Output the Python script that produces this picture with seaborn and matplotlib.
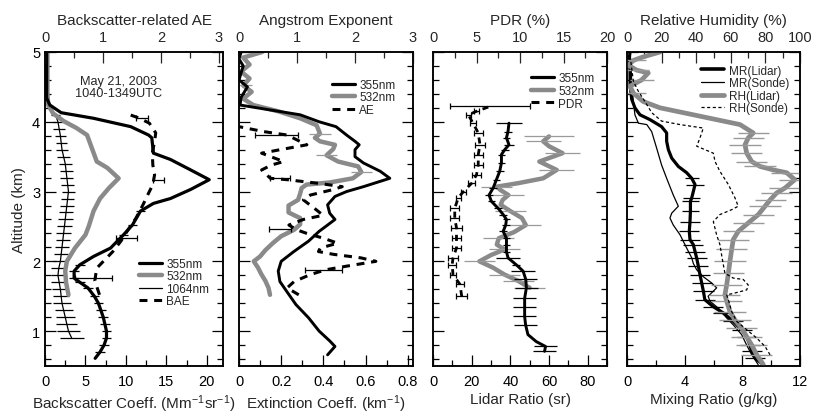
import numpy as np
import matplotlib
matplotlib.use("Agg")
import matplotlib.pyplot as plt
import seaborn as sns
from matplotlib.lines import Line2D
from matplotlib.ticker import MultipleLocator, FuncFormatter

# ---------------- panel 1: backscatter coeff (Mm-1 sr-1) + backscatter AE
bsc355_alt = [0.61, 0.70, 0.80, 0.90, 1.00, 1.10, 1.20, 1.30, 1.40, 1.50, 1.62, 1.70,
              1.76, 1.86, 1.95, 2.07, 2.19, 2.38, 2.52, 2.72, 2.83, 2.90, 3.03, 3.17,
              3.31, 3.46, 3.55, 3.77, 3.81, 3.93, 4.05, 4.13, 4.24, 4.34, 4.60, 5.00]
bsc355 = [6.2, 6.8, 7.3, 7.6, 7.6, 7.4, 7.2, 6.9, 6.6, 6.1, 5.3, 4.3,
          3.6, 3.6, 4.3, 6.0, 8.1, 9.7, 10.8, 11.8, 13.4, 15.5, 18.0, 20.3,
          18.0, 15.5, 13.4, 13.2, 12.8, 10.6, 6.0, 2.0, 0.6, 0.2, 0.2, 0.2]
bsc355_err = [0, 0.6, 0.6, 0.6, 0.6, 0.6, 0.6, 0.6, 0.6, 0.6, 0.6, 0.6,
              0.6, 0.6, 0.6, 0, 0, 0.6, 0.6, 0.6, 0, 0, 0, 0,
              0, 0, 0, 0, 0, 0, 0, 0, 0, 0, 0, 0]

bsc532_alt = [1.52, 1.70, 1.86, 2.00, 2.19, 2.38, 2.50, 2.72, 2.90, 3.05, 3.19, 3.34,
              3.43, 3.62, 3.81, 3.91, 4.01, 4.12, 4.24, 4.40, 5.00]
bsc532 = [2.9, 2.6, 2.5, 2.7, 3.7, 5.0, 5.4, 6.0, 6.8, 7.9, 9.1, 7.7,
          6.4, 5.8, 5.2, 3.9, 2.3, 1.0, 0.4, 0.3, 0.3]

bsc1064_alt = [0.9, 1.0, 1.1, 1.2, 1.3, 1.4, 1.5, 1.6, 1.7, 1.8,
               1.9, 2.0, 2.1, 2.2, 2.3, 2.4, 2.5, 2.6, 2.7, 2.8,
               2.9, 3.0, 3.1, 3.2, 3.3, 3.4, 3.5, 3.6, 3.7, 3.8,
               3.9, 4.0, 4.1, 4.2, 4.3, 4.6, 5.0]
bsc1064 = [3.3, 2.9, 2.7, 2.5, 2.3, 2.1, 2.0, 1.9, 1.75, 1.6,
           1.7, 1.9, 2.0, 2.1, 2.2, 2.3, 2.4, 2.5, 2.6, 2.7,
           2.8, 2.9, 2.8, 2.7, 2.6, 2.5, 2.3, 2.1, 2.0, 1.9,
           1.75, 1.6, 1.3, 0.6, 0.3, 0.2, 0.2]
bsc1064_err = [1.5, 1.4, 1.3, 1.2, 1.1, 1.1, 1.0, 1.0, 1.0, 0.9,
               0.9, 0.9, 0.9, 0.9, 0.9, 0.9, 0.9, 0.9, 0.9, 0.9,
               0.8, 0.8, 0.8, 0.8, 0.8, 0.8, 0.8, 0.7, 0.7, 0.7,
               0.7, 0.6, 0.5, 0, 0, 0, 0]

bae_alt = [1.52, 1.72, 1.90, 2.02, 2.14, 2.29, 2.45, 2.62, 2.81, 2.95, 3.10, 3.24,
           3.38, 3.55, 3.72, 3.84, 3.98, 4.05, 4.13]
bae = [0.94, 0.86, 0.89, 1.03, 1.17, 1.31, 1.43, 1.57, 1.69, 1.77, 1.86, 1.89,
       1.86, 1.85, 1.89, 1.91, 1.80, 1.63, 1.37]
bae_bar_alt = [1.76, 2.33, 3.17, 4.05]
bae_bar_mid = [0.83, 1.41, 1.96, 1.67]
bae_bar_half = [0.32, 0.18, 0.10, 0.10]

# ---------------- panel 2: extinction coeff (km-1) + Angstrom exponent
ext355_alt = [0.66, 0.78, 0.86, 1.00, 1.19, 1.38, 1.57, 1.71, 1.86, 2.00, 2.14, 2.29,
              2.43, 2.52, 2.60, 2.69, 2.81, 2.93, 3.00, 3.07, 3.19, 3.29, 3.41, 3.50,
              3.60, 3.67, 3.72, 3.81, 3.93, 4.00, 4.10, 4.17, 4.24, 4.35, 4.45, 4.50,
              4.60, 4.70, 4.80, 4.90, 5.00]
ext355 = [0.42, 0.455, 0.43, 0.38, 0.33, 0.27, 0.226, 0.194, 0.186, 0.20, 0.26, 0.33,
          0.38, 0.42, 0.455, 0.43, 0.42, 0.455, 0.51, 0.59, 0.715, 0.67, 0.59, 0.55,
          0.55, 0.57, 0.55, 0.51, 0.46, 0.38, 0.29, 0.147, 0.005, 0.01, 0.03, 0.04,
          0.0, 0.01, 0.02, 0.0, 0.01]

ext532_alt = [1.52, 1.62, 1.72, 1.82, 1.91, 2.00, 2.07, 2.16, 2.26, 2.36,
              2.45, 2.53, 2.62, 2.70, 2.80, 2.88, 2.97, 3.05, 3.10, 3.13,
              3.19, 3.28, 3.36, 3.43, 3.52, 3.61, 3.67, 3.72, 3.77, 3.83,
              3.95, 4.05, 4.15, 4.24, 4.33, 4.43, 4.52, 4.62, 4.72, 4.82,
              4.92, 5.00]
ext532 = [0.147, 0.14, 0.125, 0.105, 0.09, 0.07, 0.10, 0.125, 0.16, 0.20,
          0.26, 0.29, 0.29, 0.235, 0.235, 0.28, 0.29, 0.297, 0.32, 0.43,
          0.54, 0.58, 0.565, 0.47, 0.415, 0.447, 0.455, 0.384, 0.36, 0.384,
          0.368, 0.29, 0.186, 0.068, 0.02, 0.06, 0.02, 0.05, 0.01, 0.05,
          0.02, 0.11]
ext532_err = [0, 0, 0, 0, 0, 0, 0, 0, 0, 0,
              0, 0, 0, 0, 0, 0, 0, 0, 0, 0,
              0, 0.05, 0, 0, 0.05, 0, 0, 0, 0, 0.05,
              0, 0, 0, 0, 0, 0, 0.04, 0, 0, 0,
              0, 0]

ae_alt = [1.52, 1.62, 1.71, 1.81, 1.88, 1.93, 2.00, 2.05, 2.10, 2.14, 2.19, 2.26,
          2.33, 2.40, 2.45, 2.52, 2.60, 2.66, 2.76, 2.88, 2.95, 3.02, 3.07, 3.12,
          3.17, 3.19, 3.31, 3.38, 3.43, 3.55, 3.60, 3.67, 3.81, 3.86, 3.93]
ae = [1.03, 0.83, 0.95, 1.23, 1.50, 1.85, 2.36, 2.10, 1.63, 1.37, 1.40, 1.70,
      1.46, 1.17, 1.00, 0.86, 1.11, 1.45, 1.30, 1.11, 1.23, 1.58, 1.78, 1.35,
      0.83, 0.54, 0.39, 0.56, 0.77, 0.39, 0.71, 1.17, 0.83, 0.42, 0.0]
ae_bar_alt = [1.87, 2.47, 3.19, 3.81]
ae_bar_mid = [1.46, 0.70, 0.71, 0.65]
ae_bar_half = [0.32, 0.19, 0.17, 0.37]

# ---------------- panel 3: lidar ratio (sr) + particle depolarization ratio
lr355_alt = [0.71, 0.78, 0.85, 0.95, 1.09, 1.21, 1.35, 1.47, 1.62, 1.74, 1.86,
             1.95, 2.05, 2.14, 2.24, 2.33, 2.43, 2.52, 2.60, 2.67, 2.76, 2.86,
             2.95, 3.05, 3.17, 3.29, 3.41, 3.53, 3.60, 3.67, 3.77, 3.86, 3.98]
lr355 = [57.7, 58.2, 53.4, 49.1, 47.9, 47.4, 47.4, 47.4, 48.3, 48.0, 46.6,
         43.1, 38.8, 38.0, 38.0, 38.0, 36.3, 37.6, 38.0, 36.3, 33.7, 30.2,
         29.0, 31.1, 32.8, 34.5, 35.4, 35.4, 37.1, 39.3, 38.0, 38.8, 39.3]
lr355_err = [6, 6, 0, 0, 6, 6, 6, 6, 6, 6, 6,
             2, 6, 2, 2, 2, 2, 2, 2, 2, 2, 2,
             2, 2, 2, 2, 2, 2, 2, 2.5, 2, 2, 6.5]

lr532_alt = [1.62, 1.72, 1.81, 1.91, 2.00, 2.09, 2.17, 2.24, 2.33, 2.42,
             2.52, 2.62, 2.72, 2.81, 2.88, 2.95, 3.02, 3.07, 3.12, 3.19,
             3.31, 3.43, 3.55, 3.65, 3.72, 3.79]
lr532 = [50, 44, 37, 31, 24, 30, 37, 33, 34, 42,
         48, 46, 40, 35, 36, 39, 35, 33, 44, 57,
         64, 55, 67, 60, 57, 60]
lr532_err = [8, 8, 8, 0, 8, 0, 8, 0, 8, 0,
             8, 0, 8, 0, 0, 8, 0, 8, 0, 0,
             9, 0, 9, 0, 9, 13]

pdr_alt = [1.50, 1.67, 1.81, 1.95, 2.05, 2.19, 2.33, 2.48, 2.62, 2.76, 2.91,
           3.00, 3.12, 3.24, 3.38, 3.53, 3.67, 3.84, 3.98, 4.10, 4.15, 4.22]
pdr = [3.3, 3.1, 2.3, 2.2, 2.3, 2.7, 2.7, 2.7, 2.5, 2.5, 2.9,
       3.5, 4.45, 5.0, 5.2, 5.2, 5.4, 5.2, 4.6, 4.06, 5.0, 6.55]
pdr_err = [0.6, 0.5, 0.3, 0.5, 0.6, 0.5, 0.5, 0.6, 0.5, 0.5, 0.3,
           0.3, 0.4, 0.5, 0.5, 0.5, 0.6, 0.5, 0.3, 0.3, 0.3, 4.6]

# ---------------- panel 4: mixing ratio (g/kg) + relative humidity (%)
mrl_alt = [0.52, 0.61, 0.71, 0.80, 0.92, 1.02, 1.14, 1.26, 1.35, 1.45,
           1.57, 1.69, 1.81, 1.93, 2.05, 2.14, 2.24, 2.31, 2.43, 2.57,
           2.72, 2.86, 2.91, 3.10, 3.19, 3.27, 3.36, 3.48, 3.60, 3.72,
           3.84, 3.93, 4.03, 4.10, 4.20, 4.32, 4.53, 4.72, 4.91, 5.00]
mrl = [9.45, 8.9, 8.65, 8.53, 8.3, 7.95, 7.37, 6.68, 5.98, 5.4,
       5.3, 5.18, 5.06, 4.95, 4.83, 4.72, 4.6, 4.37, 4.32, 4.37,
       4.4, 4.4, 4.49, 4.72, 4.49, 4.14, 3.56, 3.1, 2.87, 2.75,
       2.75, 2.4, 1.6, 0.9, 0.55, 0.33, 0.21, 0.21, 0.16, 0.21]
mrl_err = [0, 0.7, 0.7, 0.7, 0.7, 0.7, 0.7, 0.7, 0.7, 0.7,
           0.7, 0.7, 0.7, 0.7, 0.7, 0.7, 0.7, 0.7, 0.7, 0.7,
           0.6, 0.6, 0.6, 0.6, 0.5, 0, 0, 0, 0, 0,
           0, 0, 0, 0, 0, 0, 0, 0, 0, 0]

mrs_alt = [0.52, 0.66, 0.80, 0.95, 1.09, 1.19, 1.33, 1.43, 1.50, 1.62,
           1.69, 1.78, 1.88, 1.97, 2.05, 2.19, 2.38, 2.52, 2.62, 2.69,
           2.79, 2.95, 3.19, 3.38, 3.62, 3.86, 3.96, 3.98, 4.10, 4.29,
           4.53, 4.82, 5.00]
mrs = [9.1, 8.65, 8.3, 7.95, 7.37, 6.91, 6.33, 5.75, 5.63, 6.22,
       5.87, 5.29, 4.83, 4.6, 4.49, 4.14, 3.68, 3.21, 2.98, 3.1,
       3.56, 3.21, 2.75, 2.4, 2.06, 1.71, 1.37, 0.79, 0.55, 0.44,
       0.33, 0.28, 0.21]

rhl_alt = [0.52, 0.66, 0.80, 0.92, 1.04, 1.16, 1.28, 1.43, 1.52, 1.66,
           1.83, 2.00, 2.17, 2.31, 2.43, 2.55, 2.67, 2.79, 2.88, 2.98,
           3.05, 3.17, 3.27, 3.31, 3.36, 3.43, 3.55, 3.67, 3.77, 3.84,
           3.96, 4.05, 4.13, 4.20, 4.29, 4.41, 4.51, 4.60, 4.70, 4.74,
           4.81, 4.88, 4.93, 5.00]
rhl = [78.8, 75, 72.1, 69.2, 66.3, 62.4, 59.5, 57.6, 56.6, 57.6,
       58.6, 59.5, 60.5, 61.4, 64.3, 70.1, 75.9, 79.8, 82.7, 86.5,
       91.3, 97, 92.3, 84.6, 76.9, 72.1, 69.2, 68.2, 70.1, 73,
       65.3, 48, 32.6, 19.1, 9.4, 3.7, 1.7, 8.5, 12.3, 5.6,
       0.8, 3.7, 9.4, 19.1]
rhl_err = [0, 9, 9, 9, 9, 9, 9, 9, 9, 9,
           9, 9, 9, 9, 9, 9, 9, 9, 9, 9,
           9, 9, 9, 0, 9, 9, 9, 9, 9, 9,
           0, 0, 0, 0, 0, 7, 0, 7, 0, 7,
           0, 7, 0, 0]

rhs_alt = [0.66, 0.78, 0.90, 1.02, 1.14, 1.28, 1.45, 1.52, 1.54, 1.59,
           1.66, 1.74, 1.76, 1.83, 1.95, 2.09, 2.24, 2.38, 2.57, 2.67,
           2.74, 2.79, 2.91, 3.10, 3.29, 3.43, 3.55, 3.65, 3.77, 3.91,
           3.96, 4.01, 4.13, 4.29, 4.44, 4.58, 4.77, 4.96]
rhs = [82.7, 79.8, 75, 69.2, 63.4, 60.5, 58.6, 57.6, 61.4, 69.2,
       70.1, 67.2, 61.4, 56.6, 55.7, 54.7, 53.7, 51.8, 49.9, 53.7,
       60.5, 64.3, 62.4, 58.6, 53.7, 50.9, 49.9, 40.3, 42.2, 44.1,
       30.6, 20.0, 14.3, 10.4, 6.5, 3.7, 2.7, 1.7]

GRAY = "#8a8a8a"
GRAY_ERR = "#9a9a9a"

sns.set_style("ticks")
plt.rcParams["font.family"] = ["Liberation Sans", "DejaVu Sans"]
plt.rcParams["mathtext.fontset"] = "custom"
plt.rcParams["mathtext.rm"] = "Liberation Sans"
plt.rcParams["mathtext.it"] = "Liberation Sans:italic"
plt.rcParams["axes.linewidth"] = 1.1
plt.rcParams["axes.unicode_minus"] = True

LABEL_FS = 11


def line(ax, x, y, color="k", lw=2.2, ls="-", **kw):
    sns.lineplot(x=x, y=y, ax=ax, orient="y", sort=False, estimator=None,
                 errorbar=None, color=color, linewidth=lw, linestyle=ls,
                 legend=False, **kw)


def bars(ax, x, y, err, color="k", lw=0.9, cap=0):
    x = np.asarray(x, float)
    y = np.asarray(y, float)
    err = np.asarray(err, float)
    keep = err > 0
    ax.errorbar(x[keep], y[keep], xerr=err[keep], fmt="none", ecolor=color,
                elinewidth=lw, capsize=cap, capthick=lw)


fmt = FuncFormatter(lambda v, _: f"{v:g}")


def setup(ax, top, xlim, xmaj, xmin, tlim, tmaj, tmin, show_y=False):
    ax.set_ylim(0.5, 5.0)
    ax.yaxis.set_major_locator(MultipleLocator(1))
    ax.yaxis.set_minor_locator(MultipleLocator(0.2))
    ax.set_xlim(*xlim)
    ax.xaxis.set_major_locator(MultipleLocator(xmaj))
    ax.xaxis.set_minor_locator(MultipleLocator(xmin))
    ax.xaxis.set_major_formatter(fmt)
    ax.tick_params(axis="both", which="both", direction="in", width=0.9,
                   left=True, right=True, bottom=True, top=False,
                   labelsize=10.5, colors="k")
    ax.tick_params(which="major", length=8)
    ax.tick_params(which="minor", length=4.5)
    ax.tick_params(axis="x", pad=6)
    if not show_y:
        ax.tick_params(axis="y", labelleft=False)
    top.set_xlim(*tlim)
    top.xaxis.set_major_locator(MultipleLocator(tmaj))
    top.xaxis.set_minor_locator(MultipleLocator(tmin))
    top.xaxis.set_major_formatter(fmt)
    top.tick_params(axis="x", which="both", direction="in", width=0.9,
                    top=True, bottom=False, labelsize=10.5, pad=6)
    top.tick_params(which="major", length=8)
    top.tick_params(which="minor", length=4.5)
    for sp in list(ax.spines.values()) + list(top.spines.values()):
        sp.set_linewidth(1.1)
        sp.set_color("k")


def add_legend(ax, handles, x, y):
    ax.legend(handles=handles, loc="upper left", bbox_to_anchor=(x, y),
              frameon=False, fontsize=8.5, handlelength=1.9,
              handletextpad=0.4, labelspacing=0.05, borderpad=0,
              borderaxespad=0)


fig = plt.figure(figsize=(8.13, 4.14), dpi=100)
b, h = 47 / 414, 314 / 414
ax1 = fig.add_axes([45 / 813, b, 178 / 813, h])
ax2 = fig.add_axes([239 / 813, b, 174 / 813, h])
ax3 = fig.add_axes([433 / 813, b, 174 / 813, h])
ax4 = fig.add_axes([627 / 813, b, 173 / 813, h])
t1, t2, t3, t4 = ax1.twiny(), ax2.twiny(), ax3.twiny(), ax4.twiny()

# panel 1
line(ax1, bsc1064, bsc1064_alt, lw=0.9)
bars(ax1, bsc1064, bsc1064_alt, bsc1064_err)
line(ax1, bsc532, bsc532_alt, color=GRAY, lw=3.2)
line(ax1, bsc355, bsc355_alt, lw=2.3)
bars(ax1, bsc355, bsc355_alt, bsc355_err)
line(t1, bae, bae_alt, lw=2.2, ls=(0, (2.6, 2.2)))
bars(t1, bae_bar_mid, bae_bar_alt, bae_bar_half, cap=2)
setup(ax1, t1, (0, 22), 5, 2.5, (0, 3.07), 1, 0.5, show_y=True)
ax1.set_xlabel("Backscatter Coeff. (Mm$^{-1}$sr$^{-1}$)", fontsize=LABEL_FS, labelpad=3)
ax1.set_ylabel("Altitude (km)", fontsize=LABEL_FS, labelpad=4)
t1.set_xlabel("Backscatter-related AE", fontsize=LABEL_FS, labelpad=4)
ax1.text(0.415, 0.888, "May 21, 2003\n1040-1349UTC", transform=ax1.transAxes,
         ha="center", va="center", fontsize=9.2, linespacing=1.05)
add_legend(t1, [Line2D([], [], color="k", lw=2.3, label="355nm"),
                Line2D([], [], color=GRAY, lw=3.2, label="532nm"),
                Line2D([], [], color="k", lw=0.9, label="1064nm"),
                Line2D([], [], color="k", lw=2.2, ls=(0, (2.6, 2.2)), label="BAE")],
           0.53, 0.345)

# panel 2
line(ax2, ext532, ext532_alt, color=GRAY, lw=3.2)
bars(ax2, ext532, ext532_alt, ext532_err, color=GRAY_ERR)
line(ax2, ext355, ext355_alt, lw=2.1)
line(t2, ae, ae_alt, lw=2.2, ls=(0, (2.6, 2.2)))
bars(t2, ae_bar_mid, ae_bar_alt, ae_bar_half, cap=2)
setup(ax2, t2, (0, 0.825), 0.2, 0.1, (0, 3), 1, 0.5)
ax2.set_xlabel("Extinction Coeff. (km$^{-1}$)", fontsize=LABEL_FS, labelpad=3)
t2.set_xlabel("Angstrom Exponent", fontsize=LABEL_FS, labelpad=4)
add_legend(t2, [Line2D([], [], color="k", lw=2.3, label="355nm"),
                Line2D([], [], color=GRAY, lw=3.2, label="532nm"),
                Line2D([], [], color="k", lw=2.2, ls=(0, (2.6, 2.2)), label="AE")],
           0.535, 0.915)

# panel 3
line(ax3, lr532, lr532_alt, color=GRAY, lw=3.2)
bars(ax3, lr532, lr532_alt, lr532_err, color=GRAY_ERR)
line(ax3, lr355, lr355_alt, lw=2.1)
bars(ax3, lr355, lr355_alt, lr355_err)
line(t3, pdr, pdr_alt, lw=2.0, ls=(0, (2.2, 2.0)))
bars(t3, pdr, pdr_alt, pdr_err, cap=2)
setup(ax3, t3, (0, 90), 20, 10, (0, 20), 5, 2.5)
ax3.set_xlabel("Lidar Ratio (sr)", fontsize=LABEL_FS, labelpad=3)
t3.set_xlabel("PDR (%)", fontsize=LABEL_FS, labelpad=4)
add_legend(t3, [Line2D([], [], color="k", lw=2.3, label="355nm"),
                Line2D([], [], color=GRAY, lw=3.2, label="532nm"),
                Line2D([], [], color="k", lw=2.2, ls=(0, (2.6, 2.2)), label="PDR")],
           0.565, 0.935)

# panel 4
line(t4, rhl, rhl_alt, color=GRAY, lw=3.4)
bars(t4, rhl, rhl_alt, rhl_err, color=GRAY_ERR, lw=1.0)
line(t4, rhs, rhs_alt, lw=0.9, ls=(0, (2.5, 2.0)))
line(ax4, mrs, mrs_alt, lw=0.9)
line(ax4, mrl, mrl_alt, lw=2.3)
bars(ax4, mrl, mrl_alt, mrl_err)
setup(ax4, t4, (0, 12), 4, 2, (0, 100), 20, 10)
ax4.set_xlabel("Mixing Ratio (g/kg)", fontsize=LABEL_FS, labelpad=3)
t4.set_xlabel("Relative Humidity (%)", fontsize=LABEL_FS, labelpad=4)
add_legend(t4, [Line2D([], [], color="k", lw=2.6, label="MR(Lidar)"),
                Line2D([], [], color="k", lw=0.9, label="MR(Sonde)"),
                Line2D([], [], color=GRAY, lw=3.4, label="RH(Lidar)"),
                Line2D([], [], color="k", lw=0.9, ls=(0, (2.5, 2.0)), label="RH(Sonde)")],
           0.43, 0.96)

fig.savefig("out.png", dpi=100)
